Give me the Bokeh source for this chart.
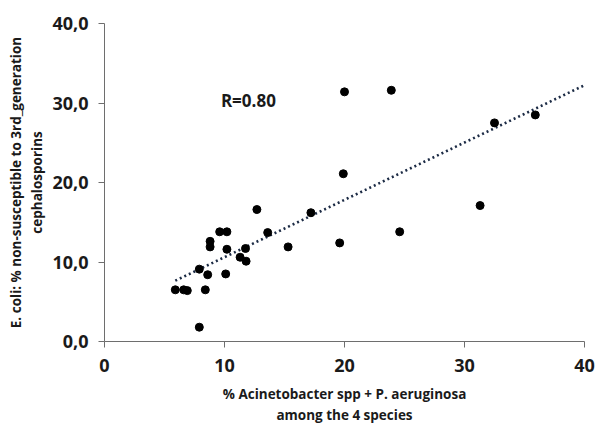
import numpy as np
from bokeh.plotting import figure
from bokeh.models import Range1d, FixedTicker, CustomJSTickFormatter, Label, ColumnDataSource
from bokeh.embed import file_html
from bokeh.resources import INLINE

# data
acineto_pct = [5.9, 6.6, 6.9, 8.4, 7.9, 7.9, 8.6, 8.8, 8.8, 9.6, 10.2, 10.2, 10.1, 11.3,
               11.75, 11.8, 12.7, 13.6, 15.3, 17.2, 19.6, 19.9, 20.0, 23.9, 24.6, 31.3, 32.5, 35.9]
ecoli_pct = [6.5, 6.5, 6.4, 6.5, 1.8, 9.1, 8.4, 12.6, 11.9, 13.8, 13.8, 11.6, 8.5, 10.6,
             11.7, 10.1, 16.6, 13.7, 11.9, 16.2, 12.4, 21.1, 31.4, 31.6, 13.8, 17.1, 27.5, 28.5]
x_ticks = [0, 10, 20, 30, 40]
y_ticks = [0, 10, 20, 30, 40]
r_label = "R=0.80"
x_title = "% Acinetobacter spp + P. aeruginosa\namong the 4 species"
y_title = "E. coli: % non-susceptible to 3rd_generation\ncephalosporins"

FONT = "Open Sans"

p = figure(width=595, height=427, output_backend="svg", toolbar_location=None,
           x_range=Range1d(0, 40), y_range=Range1d(0, 40),
           min_border_left=104, min_border_right=11, min_border_top=23, min_border_bottom=86)
p.outline_line_color = None
p.grid.grid_line_color = None
p.background_fill_color = "white"
p.border_fill_color = "white"

for ax in (p.xaxis[0], p.yaxis[0]):
    ax.axis_line_color = "#6e6e6e"
    ax.major_tick_line_color = "#6e6e6e"
    ax.minor_tick_line_color = None
    ax.major_tick_in = 0
    ax.major_tick_out = 6
    ax.major_label_text_font = FONT
    ax.major_label_text_font_style = "bold"
    ax.major_label_text_font_size = "18px"
    ax.major_label_text_color = "#1a1a1a"
    ax.axis_label_text_font = FONT
    ax.axis_label_text_font_style = "bold"
    ax.axis_label_text_font_size = "13.5px"
    ax.axis_label_text_color = "#1a1a1a"

p.xaxis.ticker = FixedTicker(ticks=x_ticks)
p.yaxis.ticker = FixedTicker(ticks=y_ticks)
p.yaxis.formatter = CustomJSTickFormatter(code="return tick.toFixed(1).replace('.', ',');")
p.xaxis.major_label_standoff = 11
p.yaxis.major_label_standoff = 10
p.xaxis.axis_label = x_title
p.yaxis.axis_label = y_title
p.xaxis.axis_label_standoff = 10
p.yaxis.axis_label_standoff = 3

# trendline (least squares through the data)
xs = np.array(acineto_pct)
ys = np.array(ecoli_pct)
slope, intercept = np.polyfit(xs, ys, 1)
tx = np.array([xs.min(), 40.0])
p.line(tx, slope * tx + intercept, line_color="#1c2b45", line_width=2.6, line_dash="2 3")

src = ColumnDataSource(dict(x=acineto_pct, y=ecoli_pct))
p.scatter("x", "y", source=src, size=8, fill_color="black", line_color="black")

p.add_layout(Label(x=9.7, y=30.3, text=r_label, text_font=FONT, text_font_style="bold",
                   text_font_size="17px", text_color="#1a1a1a", text_baseline="middle"))

open("out.html", "w").write(file_html(p, INLINE))
